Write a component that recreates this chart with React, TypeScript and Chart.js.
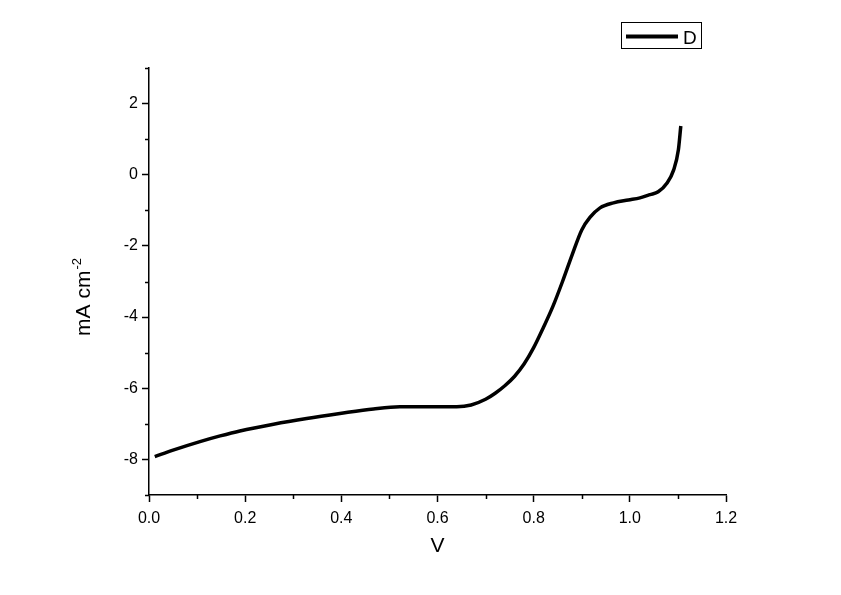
import React, { useEffect, useRef } from "react";
import { Chart, registerables } from "chart.js";

Chart.register(...registerables);

const voltage = [
  0.012, 0.05, 0.106, 0.148, 0.189, 0.259, 0.328, 0.397, 0.467, 0.522, 0.584,
  0.64, 0.67, 0.7, 0.72, 0.74, 0.76, 0.78, 0.8, 0.82, 0.84, 0.86, 0.88, 0.9,
  0.917, 0.938, 0.966, 0.997, 1.021, 1.042, 1.059, 1.077, 1.091, 1.101, 1.106,
];
const current = [
  -7.92, -7.74, -7.5, -7.34, -7.2, -7.01, -6.85, -6.71, -6.58, -6.52, -6.52,
  -6.52, -6.47, -6.31, -6.14, -5.93, -5.67, -5.32, -4.86, -4.3, -3.7, -3.0,
  -2.25, -1.55, -1.2, -0.93, -0.79, -0.71, -0.65, -0.56, -0.48, -0.24, 0.13,
  0.7, 1.37,
];
const xTicks = [0, 0.2, 0.4, 0.6, 0.8, 1.0, 1.2];
const xMinorTicks = [0.1, 0.3, 0.5, 0.7, 0.9, 1.1];
const yTicks = [-8, -6, -4, -2, 0, 2];
const yMinorTicks = [-9, -7, -5, -3, -1, 1, 3];
const seriesName = "D";
const xTitle = "V";
const yTitleMain = "mA cm";
const yTitleSup = "-2";

const FONT = "'Liberation Sans', Arial, sans-serif";

const overlayPlugin = {
  id: "overlay",
  afterDraw(chart: any) {
    const ctx = chart.ctx;
    const xs = chart.scales.x;
    const ys = chart.scales.y;
    const area = chart.chartArea;
    ctx.save();
    ctx.strokeStyle = "#000";
    ctx.lineWidth = 1.5;
    xMinorTicks.forEach((v) => {
      const px = Math.round(xs.getPixelForValue(v)) + 0.5;
      ctx.beginPath();
      ctx.moveTo(px, area.bottom);
      ctx.lineTo(px, area.bottom + 4);
      ctx.stroke();
    });
    yMinorTicks.forEach((v) => {
      const py = Math.round(ys.getPixelForValue(v)) + 0.5;
      ctx.beginPath();
      ctx.moveTo(area.left - 4, py);
      ctx.lineTo(area.left, py);
      ctx.stroke();
    });
    ctx.fillStyle = "#000";
    ctx.font = `21px ${FONT}`;
    ctx.textAlign = "center";
    ctx.textBaseline = "alphabetic";
    ctx.fillText(xTitle, (area.left + area.right) / 2, 552);
    ctx.font = `21px ${FONT}`;
    const wMain = ctx.measureText(yTitleMain).width;
    ctx.font = `13px ${FONT}`;
    const wSup = ctx.measureText(yTitleSup).width;
    const total = wMain + wSup + 1;
    ctx.translate(90, 297 + total / 2);
    ctx.rotate(-Math.PI / 2);
    ctx.textAlign = "left";
    ctx.font = `21px ${FONT}`;
    ctx.fillText(yTitleMain, 0, 0);
    ctx.font = `13px ${FONT}`;
    ctx.fillText(yTitleSup, wMain + 1, -9);
    ctx.setTransform(1, 0, 0, 1, 0, 0);
    ctx.lineWidth = 1;
    ctx.strokeRect(621.5, 22.5, 80, 26);
    ctx.lineWidth = 4;
    ctx.beginPath();
    ctx.moveTo(626, 36.5);
    ctx.lineTo(678, 36.5);
    ctx.stroke();
    ctx.font = `19px ${FONT}`;
    ctx.textAlign = "left";
    ctx.fillText(seriesName, 683, 44);
    ctx.restore();
  },
};

export default function App() {
  const ref = useRef<HTMLCanvasElement | null>(null);
  useEffect(() => {
    if (!ref.current) return;
    const points = voltage.map((v, i) => ({ x: v, y: current[i] }));
    const chart = new Chart(ref.current, {
      type: "line",
      data: {
        datasets: [
          {
            label: seriesName,
            data: points,
            borderColor: "#000",
            borderWidth: 3.5,
            pointRadius: 0,
            cubicInterpolationMode: "monotone",
            fill: false,
          },
        ],
      },
      options: {
        animation: false,
        responsive: false,
        devicePixelRatio: 1,
        layout: { padding: { top: 68, right: 115, left: 0, bottom: 0 } },
        plugins: { legend: { display: false }, tooltip: { enabled: false } },
        scales: {
          x: {
            type: "linear",
            min: 0,
            max: 1.2,
            afterFit: (s: any) => {
              s.height = 100;
            },
            afterBuildTicks: (s: any) => {
              s.ticks = xTicks.map((v) => ({ value: v }));
            },
            ticks: {
              color: "#000",
              font: { family: FONT, size: 16 },
              padding: 7,
              maxRotation: 0,
              autoSkip: false,
              callback: (v: any) => Number(v).toFixed(1),
            },
            grid: {
              display: true,
              drawOnChartArea: false,
              drawTicks: true,
              tickLength: 7,
              tickColor: "#000",
              tickWidth: 1.5,
            },
            border: { display: true, color: "#000", width: 1.5 },
          },
          y: {
            type: "linear",
            min: -9,
            max: 3,
            afterFit: (s: any) => {
              s.width = 149;
            },
            afterBuildTicks: (s: any) => {
              s.ticks = yTicks.map((v) => ({ value: v }));
            },
            ticks: {
              color: "#000",
              font: { family: FONT, size: 16 },
              padding: 4,
              autoSkip: false,
              callback: (v: any) => String(v),
            },
            grid: {
              display: true,
              drawOnChartArea: false,
              drawTicks: true,
              tickLength: 7,
              tickColor: "#000",
              tickWidth: 1.5,
            },
            border: { display: true, color: "#000", width: 1.5 },
          },
        },
      },
      plugins: [overlayPlugin],
    });
    return () => chart.destroy();
  }, []);
  return (
    <div
      style={{
        position: "fixed",
        left: 0,
        top: 0,
        width: 841,
        height: 595,
        background: "#fff",
      }}
    >
      <canvas ref={ref} width={841} height={595} />
    </div>
  );
}
